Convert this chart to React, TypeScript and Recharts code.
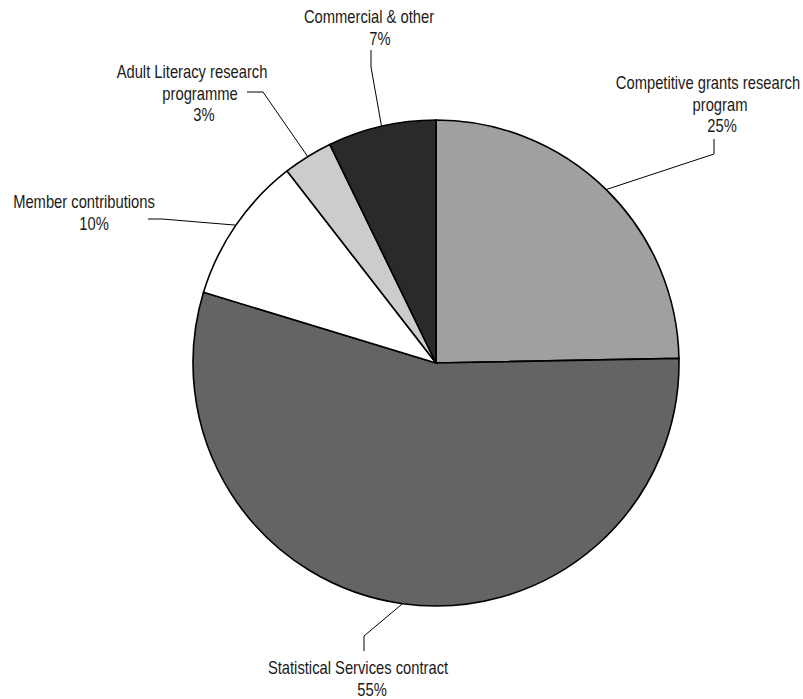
import { PieChart, Pie, Cell } from 'recharts';

// Funding sources, share of total (%)
const categories = [
  'Competitive grants research program',
  'Statistical Services contract',
  'Member contributions',
  'Adult Literacy research programme',
  'Commercial & other',
];
const shares = [24.7, 55.0, 9.8, 3.3, 7.2];
const labelLines = [
  ['Competitive grants research', 'program'],
  ['Statistical Services contract'],
  ['Member contributions'],
  ['Adult Literacy research', 'programme'],
  ['Commercial & other'],
];
const sliceColors = ['#a0a0a0', '#646464', '#ffffff', '#cccccc', '#2a2a2a'];

const data = categories.map((name, i) => ({ name, value: shares[i] }));

// leader line elbows / ends and text placement, relative to pie centre
const labelLayout = [
  { elbow: [278, -209], end: [278, -224], x: [272, 284, 286], y: -274 },
  { elbow: [-72, 273], end: [-72, 288], x: [-78, -64], y: 311 },
  { elbow: [-274, -144], end: [-288, -144], x: [-352, -342], y: -155 },
  { elbow: [-173, -271], end: [-189, -271], x: [-244, -236, -232], y: -285 },
  { elbow: [-65, -296], end: [-65, -313], x: [-67, -56], y: -340 },
];

// no narrow face installed: squeeze Liberation Sans to an Arial Narrow width
const FONT = "'Liberation Sans', Arial, sans-serif";
const SQUEEZE = 0.82;
const LINE_H = 21.7;
const RAD = Math.PI / 180;

function renderLabel(props: any) {
  const { cx, cy, midAngle, outerRadius, index, percent } = props;
  const lay = labelLayout[index];
  const sx = cx + outerRadius * Math.cos(-midAngle * RAD);
  const sy = cy + outerRadius * Math.sin(-midAngle * RAD);
  const lines = [...labelLines[index], `${Math.round(percent * 100)}%`];
  return (
    <g>
      <polyline
        points={`${sx},${sy} ${cx + lay.elbow[0]},${cy + lay.elbow[1]} ${cx + lay.end[0]},${cy + lay.end[1]}`}
        fill="none"
        stroke="#000"
        strokeWidth={1}
      />
      {lines.map((t, i) => (
        <text
          key={i}
          transform={`translate(${cx + lay.x[i]},${cy + lay.y + i * LINE_H}) scale(${SQUEEZE},1)`}
          x={0}
          y={0}
          fontFamily={FONT}
          fontSize={18}
          fill="#1a1a1a"
          textAnchor="middle"
        >
          {t}
        </text>
      ))}
    </g>
  );
}

export default function App() {
  return (
    <div style={{ position: 'fixed', left: 0, top: 0, background: '#fff' }}>
      <PieChart width={803} height={699} margin={{ top: 0, right: 0, bottom: 0, left: 0 }}>
        <Pie
          data={data}
          dataKey="value"
          nameKey="name"
          cx={436}
          cy={363}
          outerRadius={243}
          startAngle={90}
          endAngle={-270}
          stroke="#000"
          strokeWidth={1.6}
          labelLine={false}
          label={renderLabel}
          isAnimationActive={false}
        >
          {data.map((d, i) => (
            <Cell key={d.name} fill={sliceColors[i]} />
          ))}
        </Pie>
      </PieChart>
    </div>
  );
}
